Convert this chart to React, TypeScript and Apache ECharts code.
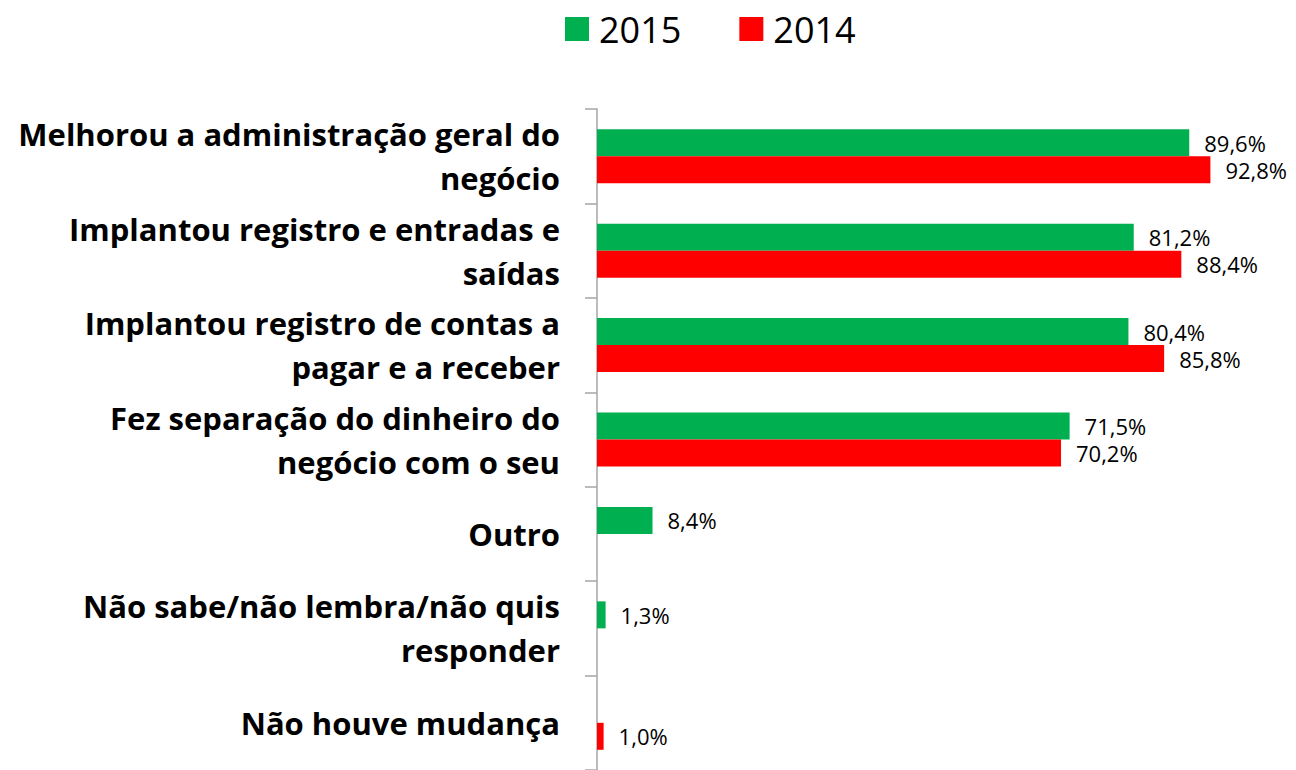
import React, { useEffect, useRef } from "react";
import * as echarts from "echarts";

const categories = [
  "Melhorou a administração geral do\nnegócio",
  "Implantou registro e entradas e\nsaídas",
  "Implantou registro de contas a\npagar e a receber",
  "Fez separação do dinheiro do\nnegócio com o seu",
  "Outro",
  "Não sabe/não lembra/não quis\nresponder",
  "Não houve mudança",
];
const values2015: (number | null)[] = [89.6, 81.2, 80.4, 71.5, 8.4, 1.3, null];
const values2014: (number | null)[] = [92.8, 88.4, 85.8, 70.2, null, null, 1.0];
const seriesNames = ["2015", "2014"];
const FONT = "'Open Sans', 'Noto Sans', sans-serif";

const fmt = (p: any) =>
  p.value == null ? "" : Number(p.value).toFixed(1).replace(".", ",") + "%";

export default function App() {
  const ref = useRef<HTMLDivElement>(null);
  useEffect(() => {
    if (!ref.current) return;
    const chart = echarts.init(ref.current, null, { renderer: "svg" });
    const labelCfg = {
      show: true,
      position: "right" as const,
      distance: 15,
      formatter: fmt,
      fontFamily: FONT,
      fontSize: 22,
      color: "#000",
    };
    chart.setOption({
      animation: false,
      backgroundColor: "#fff",
      legend: {
        left: 560,
        top: 6,
        itemWidth: 24,
        itemHeight: 24,
        itemGap: 58,
        icon: "rect",
        data: seriesNames,
        textStyle: {
          fontFamily: FONT,
          fontSize: 36,
          color: "#000",
          padding: [0, 0, 0, 5],
        },
      },
      grid: { left: 597, top: 109, width: 661, height: 666 },
      xAxis: {
        type: "value",
        min: 0,
        max: 100,
        show: false,
        splitLine: { show: false },
      },
      yAxis: {
        type: "category",
        inverse: true,
        data: categories,
        axisLine: { show: true, lineStyle: { color: "#a6a6a6", width: 1.5 } },
        axisTick: {
          show: true,
          inside: false,
          length: 12,
          lineStyle: { color: "#a6a6a6", width: 1.5 },
        },
        axisLabel: {
          margin: 37,
          fontFamily: FONT,
          fontSize: 31,
          fontWeight: "bold",
          color: "#000",
          align: "right",
          lineHeight: 44,
          padding: [0, 0, 6, 0],
        },
      },
      series: [
        {
          name: seriesNames[0],
          type: "bar",
          data: values2015,
          barWidth: 27,
          barGap: "0%",
          itemStyle: { color: "#00B050" },
          label: labelCfg,
        },
        {
          name: seriesNames[1],
          type: "bar",
          data: values2014,
          barWidth: 27,
          barGap: "0%",
          itemStyle: { color: "#FF0000" },
          label: labelCfg,
        },
      ],
    });
    return () => chart.dispose();
  }, []);
  return (
    <div
      ref={ref}
      style={{ position: "absolute", left: 0, top: 0, width: 1296, height: 770 }}
    />
  );
}
